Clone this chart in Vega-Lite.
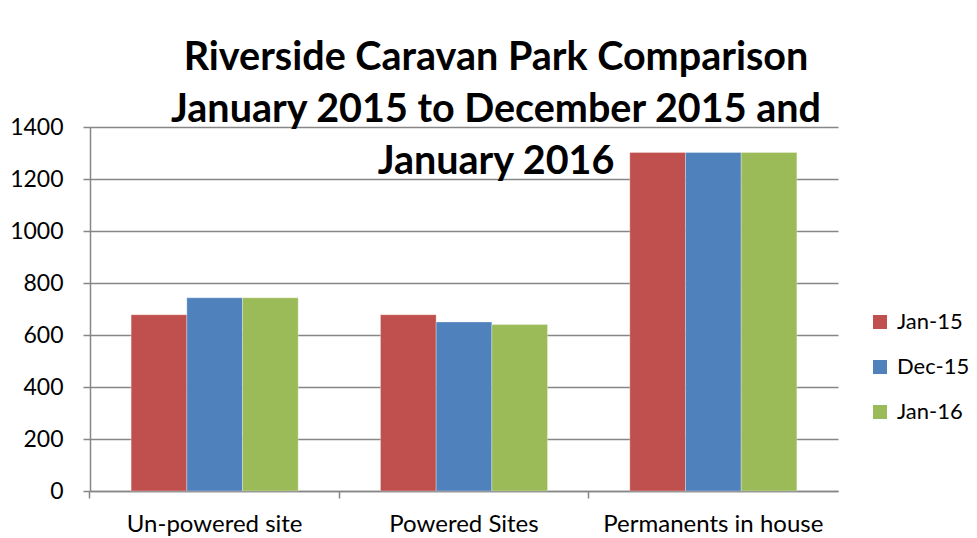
{
  "$schema": "https://vega.github.io/schema/vega-lite/v6.json",
  "width": 748,
  "height": 364,
  "autosize": "none",
  "padding": {"left": 90, "top": 127, "right": 139, "bottom": 47},
  "background": "white",
  "title": {
    "text": ["Riverside Caravan Park Comparison", "January 2015 to December 2015 and", "January 2016"],
    "font": "Lato",
    "fontSize": 39.5,
    "fontWeight": "bold",
    "color": "#000000",
    "anchor": "middle",
    "dx": 32,
    "offset": -66,
    "lineHeight": 52
  },
  "data": {
    "values": [
      {"category": "Un-powered site", "period": "Jan-15", "value": 678},
      {"category": "Un-powered site", "period": "Dec-15", "value": 743},
      {"category": "Un-powered site", "period": "Jan-16", "value": 743},
      {"category": "Powered Sites", "period": "Jan-15", "value": 678},
      {"category": "Powered Sites", "period": "Dec-15", "value": 650},
      {"category": "Powered Sites", "period": "Jan-16", "value": 640},
      {"category": "Permanents in house", "period": "Jan-15", "value": 1302},
      {"category": "Permanents in house", "period": "Dec-15", "value": 1302},
      {"category": "Permanents in house", "period": "Jan-16", "value": 1302}
    ]
  },
  "mark": {"type": "bar", "stroke": "white", "strokeWidth": 0.6, "strokeOpacity": 0.5},
  "encoding": {
    "x": {
      "field": "category",
      "type": "nominal",
      "sort": ["Un-powered site", "Powered Sites", "Permanents in house"],
      "scale": {"paddingInner": 0.33, "paddingOuter": 0.165},
      "axis": {
        "title": null,
        "labelAngle": 0,
        "labelFont": "Lato",
        "labelFontSize": 24,
        "labelLimit": 0,
        "labelColor": "#000000",
        "labelPadding": 14,
        "domainColor": "#868686",
        "domainWidth": 1.5,
        "tickColor": "#868686",
        "tickWidth": 1.5,
        "tickSize": 7,
        "bandPosition": -0.247,
        "grid": false
      }
    },
    "xOffset": {
      "field": "period",
      "type": "nominal",
      "sort": ["Jan-15", "Dec-15", "Jan-16"],
      "scale": {"paddingInner": 0, "paddingOuter": 0}
    },
    "y": {
      "field": "value",
      "type": "quantitative",
      "scale": {"domain": [0, 1400], "nice": false},
      "axis": {
        "title": null,
        "values": [0, 200, 400, 600, 800, 1000, 1200, 1400],
        "format": "d",
        "labelFont": "Lato",
        "labelFontSize": 23,
        "labelColor": "#000000",
        "labelPadding": 20,
        "domainColor": "#868686",
        "domainWidth": 1.5,
        "tickColor": "#868686",
        "tickWidth": 1.5,
        "tickSize": 7,
        "gridColor": "#868686",
        "gridWidth": 1.5
      }
    },
    "color": {
      "field": "period",
      "type": "nominal",
      "sort": ["Jan-15", "Dec-15", "Jan-16"],
      "scale": {"domain": ["Jan-15", "Dec-15", "Jan-16"], "range": ["#C0504D", "#4F81BD", "#9BBB59"]},
      "legend": {
        "title": null,
        "orient": "none",
        "legendX": 779,
        "legendY": 184,
        "symbolType": "square",
        "symbolSize": 196,
        "symbolStrokeWidth": 0,
        "labelFont": "Lato",
        "labelFontSize": 22,
        "labelColor": "#000000",
        "labelOffset": 6,
        "rowPadding": 23
      }
    }
  },
  "config": {
    "view": {"stroke": null}
  }
}
